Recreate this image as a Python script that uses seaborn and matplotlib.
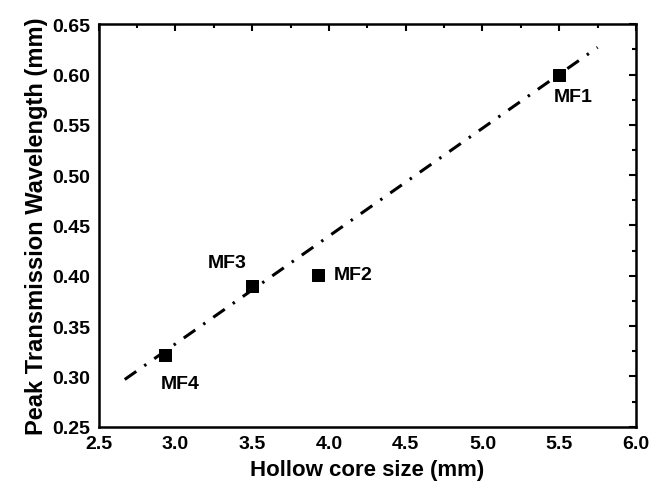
import numpy as np
import pandas as pd
import seaborn as sns
import matplotlib.pyplot as plt
from matplotlib.ticker import MultipleLocator

# measured fibres
names = ['MF1', 'MF2', 'MF3', 'MF4']
core = [5.50, 3.93, 3.50, 2.93]
peak = [0.600, 0.401, 0.390, 0.321]

# linear fit end points
fit_x = [2.67, 5.75]
fit_y = [0.297, 0.627]

sns.set_style('white')
plt.rcParams['font.family'] = ['Liberation Sans', 'DejaVu Sans']
plt.rcParams['font.weight'] = 'bold'
plt.rcParams.update({'text.color': 'black', 'axes.labelcolor': 'black',
                     'xtick.color': 'black', 'ytick.color': 'black'})

df = pd.DataFrame({'name': names, 'core': core, 'peak': peak})
fit = pd.DataFrame({'x': fit_x, 'y': fit_y})

fig = plt.figure(figsize=(6.49, 4.85), dpi=100)
ax = fig.add_axes([0.152, 0.118, 0.828, 0.830])

sns.lineplot(data=fit, x='x', y='y', ax=ax, color='black', lw=2.2,
             dashes=False, linestyle=(0, (4.6, 3.2, 0.8, 3.2)))
sns.scatterplot(data=df, x='core', y='peak', ax=ax, marker='s', s=80,
                color='black', edgecolor='black', zorder=3)

# label offsets (points)
offs = {'MF1': (-4, -16, 'left', 'center'),
        'MF2': (11, 0, 'left', 'center'),
        'MF3': (-4, 17, 'right', 'center'),
        'MF4': (-3, -20, 'left', 'center')}
for n, x, y in zip(names, core, peak):
    dx, dy, ha, va = offs[n]
    ax.annotate(n, (x, y), xytext=(dx, dy), textcoords='offset points',
                ha=ha, va=va, fontsize=14, fontweight='bold', color='black')

ax.set_xlim(2.5, 6.0)
ax.set_ylim(0.25, 0.65)
ax.xaxis.set_major_locator(MultipleLocator(0.5))
ax.xaxis.set_minor_locator(MultipleLocator(0.25))
ax.yaxis.set_major_locator(MultipleLocator(0.05))
ax.yaxis.set_minor_locator(MultipleLocator(0.025))
ax.xaxis.set_major_formatter(plt.FormatStrFormatter('%.1f'))
ax.yaxis.set_major_formatter(plt.FormatStrFormatter('%.2f'))
ax.tick_params(which='both', direction='in', top=True, right=True, width=1.5,
               colors='black')
ax.tick_params(which='major', length=5, labelsize=14, pad=6)
ax.tick_params(which='minor', length=3)
for lab in ax.get_xticklabels() + ax.get_yticklabels():
    lab.set_fontweight('bold')
for sp in ax.spines.values():
    sp.set_linewidth(1.8)
    sp.set_color('black')

ax.set_xlabel('Hollow core size (mm)', fontsize=16, fontweight='bold', labelpad=5)
ax.set_ylabel('Peak Transmission Wavelength (mm)', fontsize=17, fontweight='bold', labelpad=3)

plt.savefig('out.png', dpi=100)
